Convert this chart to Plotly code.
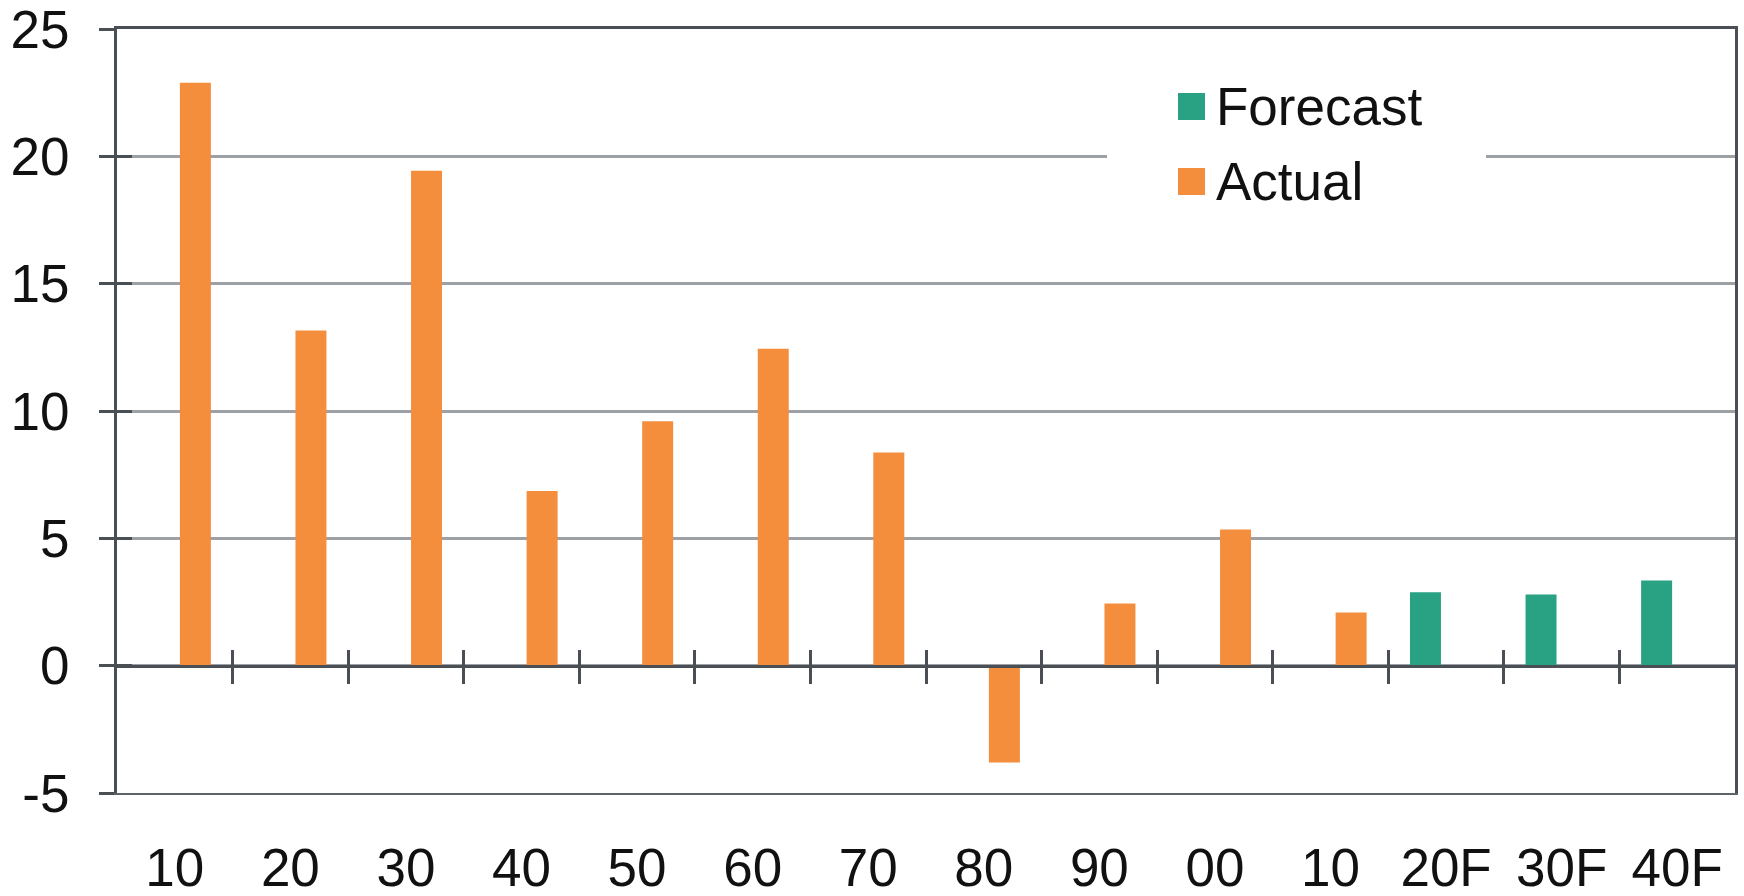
import plotly.graph_objects as go

categories = ["10", "20", "30", "40", "50", "60", "70", "80", "90", "00", "10", "20F", "30F", "40F"]
actual = [22.89, 13.16, 19.43, 6.86, 9.60, 12.44, 8.37, -3.80, 2.44, 5.35, 2.09, None, None, None]
forecast = [None, None, None, None, None, None, None, None, None, None, None, 2.88, 2.79, 3.34]
series_names = ["Forecast", "Actual"]
series_colors = ["#29A283", "#F48E3C"]
y_ticks = [-5, 0, 5, 10, 15, 20, 25]

W, H = 1744, 896
L, R, T, B = 117, 9, 29, 103
PW, PH = W - L - R, H - T - B

def px(xp):
    return (xp - L) / PW

def py(yp):
    return (H - B - yp) / PH

FONT = "Liberation Sans, Arial, sans-serif"
FS = 53
DARK = "#4A4F55"
GRID = "#9DA1A5"

xpos = list(range(len(categories)))
bounds = [i + 0.5 for i in range(len(categories) - 1)]
yr = [-5, 25]
zero_pos = (0 - yr[0]) / (yr[1] - yr[0])

fig = go.Figure()
fig.add_trace(go.Bar(x=xpos, y=forecast, name=series_names[0], marker_color=series_colors[0],
                     marker_line_width=0, showlegend=False))
fig.add_trace(go.Bar(x=xpos, y=actual, name=series_names[1], marker_color=series_colors[1],
                     marker_line_width=0, showlegend=False))
# helper invisible traces to realise overlay axes
for xa, ya in [("x2", "y"), ("x3", "y"), ("x4", "y"), ("x", "y2")]:
    fig.add_trace(go.Scatter(x=[None], y=[None], xaxis=xa, yaxis=ya, showlegend=False, hoverinfo="skip"))

xr = [-0.5, len(categories) - 0.5]
fig.update_layout(
    width=W, height=H,
    margin=dict(l=L, r=R, t=T, b=B, pad=0, autoexpand=False),
    paper_bgcolor="white", plot_bgcolor="white",
    barmode="group", bargap=0.287, bargroupgap=0.248,
    font=dict(family=FONT, size=FS, color="#111111"),
    xaxis=dict(range=xr, tickvals=xpos, ticktext=categories, showgrid=False, zeroline=False,
               showline=True, linecolor="#5E6368", linewidth=2, ticks="", automargin=False,
               ticklabeloverflow="allow",
               ticklabelstandoff=27, tickfont=dict(size=FS, color="#111111")),
    xaxis2=dict(range=xr, overlaying="x", anchor="free", position=zero_pos, side="bottom",
                tickvals=bounds, ticks="outside", ticklen=16, tickwidth=3, tickcolor=DARK,
                showticklabels=False, showgrid=False, zeroline=False, automargin=False,
                showline=True, linecolor=DARK, linewidth=3),
    xaxis3=dict(range=xr, overlaying="x", anchor="free", position=zero_pos, side="bottom",
                tickvals=bounds, ticks="inside", ticklen=16, tickwidth=3, tickcolor=DARK,
                showticklabels=False, showgrid=False, zeroline=False, showline=False, automargin=False),
    xaxis4=dict(range=xr, overlaying="x", anchor="y", side="top", showticklabels=False, automargin=False,
                ticks="", showgrid=False, zeroline=False, showline=True, linecolor=DARK, linewidth=3),
    yaxis=dict(range=yr, tickvals=y_ticks, ticktext=[str(v) for v in y_ticks],
               showgrid=True, gridcolor=GRID, gridwidth=2.5, zeroline=False,
               showline=True, linecolor=DARK, linewidth=3, mirror=True, automargin=False,
               ticklabeloverflow="allow",
               ticks="outside", ticklen=15, tickwidth=2.5, tickcolor=DARK,
               ticklabelstandoff=19, tickfont=dict(size=FS, color="#111111")),
    yaxis2=dict(range=yr, overlaying="y", anchor="x", side="left", tickvals=y_ticks, automargin=False,
                ticks="inside", ticklen=15, tickwidth=2.5, tickcolor=DARK,
                showticklabels=False, showgrid=False, zeroline=False, showline=False),
)

# legend drawn manually (larger swatches than Plotly's fixed legend symbols)
shapes = [dict(type="rect", xref="paper", yref="paper", x0=px(1107), x1=px(1486), y0=py(215), y1=py(60),
               fillcolor="white", line=dict(width=0), layer="above")]
annotations = []
rows = [(series_names[0], series_colors[0], 106.5), (series_names[1], series_colors[1], 181.5)]
for name, col, cy in rows:
    shapes.append(dict(type="rect", xref="paper", yref="paper", x0=px(1178), x1=px(1205),
                       y0=py(cy + 13.5), y1=py(cy - 13.5), fillcolor=col, line=dict(width=0), layer="above"))
    annotations.append(dict(text=name, xref="paper", yref="paper", x=px(1214), y=py(cy),
                            xanchor="left", yanchor="middle", showarrow=False,
                            font=dict(size=FS, color="#111111", family=FONT)))
fig.update_layout(shapes=shapes, annotations=annotations)

fig.write_html("out.html", config={"displayModeBar": False},
               post_script="document.body.style.margin='0';document.body.style.overflow='hidden';")
